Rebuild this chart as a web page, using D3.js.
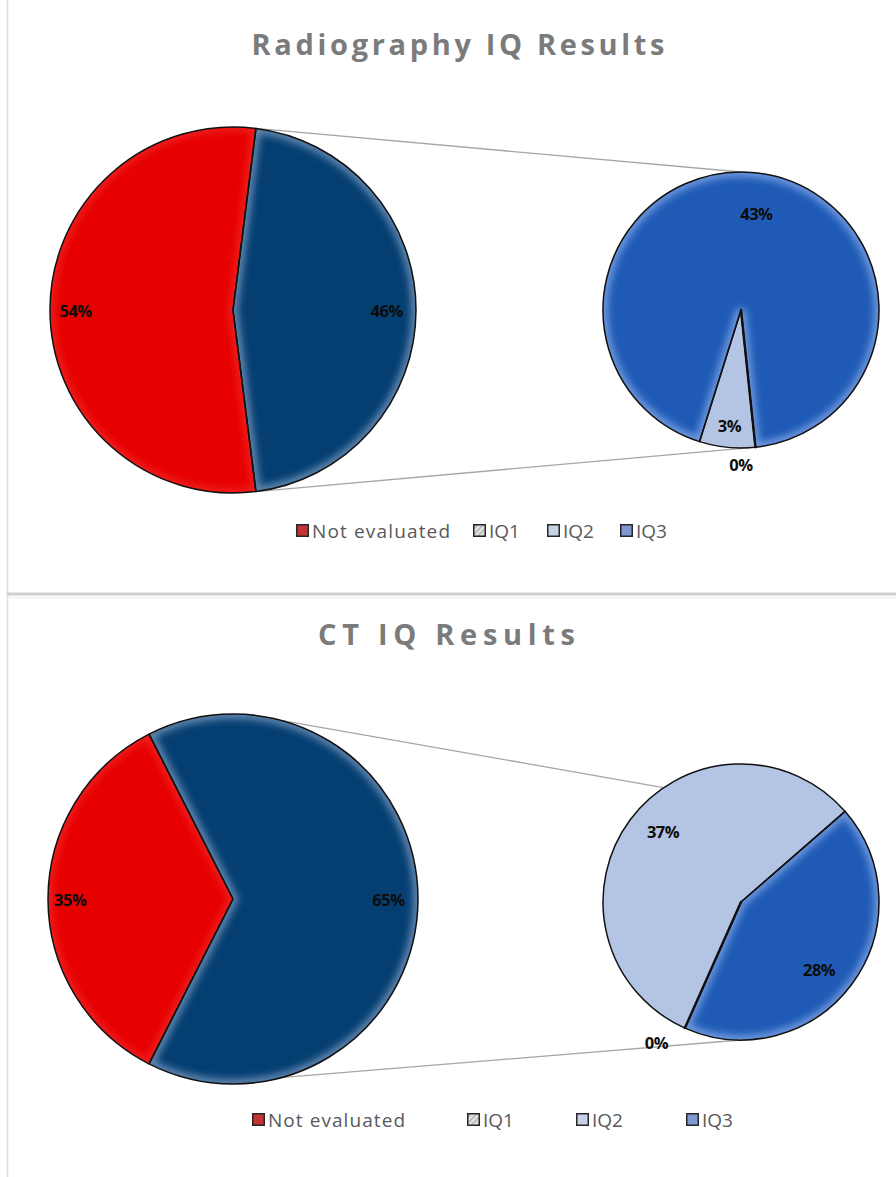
<!DOCTYPE html>
<html>
<head>
<meta charset="utf-8">
<script src="https://cdn.jsdelivr.net/npm/d3@7/dist/d3.min.js"></script>
<style>
  html, body { margin: 0; padding: 0; background: #ffffff; }
  svg { display: block; }
  text { font-family: "Open Sans", Lato, "DejaVu Sans", sans-serif; }
</style>
</head>
<body>
<svg id="chart" width="896" height="1177"></svg>
<script>
// ---- data ----
const chartTitles = ["Radiography IQ Results", "CT IQ Results"];
const legendLabels = ["Not evaluated", "IQ1", "IQ2", "IQ3"];

// primary pie: Not evaluated vs. evaluated (split further in the secondary pie)
const radiographyPrimary = [54, 46];
const radiographySecondary = [0, 3, 43];   // IQ1, IQ2, IQ3
const ctPrimary = [35, 65];
const ctSecondary = [0, 37, 28];           // IQ1, IQ2, IQ3

// ---- styling ----
const colors = {
  notEval: "#e60000",
  other: "#053f72",
  IQ1: "#d9d9d9",
  IQ2: "#b4c4e4",
  IQ3: "#1f5bb6"
};
const glow = {
  notEval: { c: "#ff5050", o: 0.35 },
  other: { c: "#7d9cc2", o: 0.75 },
  IQ1: { c: "#ffffff", o: 0 },
  IQ2: { c: "#b4c4e4", o: 0 },
  IQ3: { c: "#8fb0ec", o: 0.7 }
};
const legendSwatch = ["#c43434", "hatch", "#c7d2e8", "#7f98cf"];

const deg = Math.PI / 180;

const layouts = [
  {
    title: chartTitles[0], titleX: 458, titleY: 55, titleW: 413,
    primary: radiographyPrimary, secondary: radiographySecondary,
    big: { cx: 233, cy: 310, r: 183, start: 172.8 },
    small: { cx: 741, cy: 310, r: 138, start: 174 },
    connectors: [[7.2, 0], [172.8, 176]],
    bigLabels: [{ f: 0.86 }, { f: 0.84 }],
    smallLabels: [{ f: 1.12, a: 180 }, { f: 0.84 }, { f: 0.71, a: 9 }],
    legendY: 531,
    legendX: [296, 473, 547, 620],
    firstLegendW: 138
  },
  {
    title: chartTitles[1], titleX: 446.5, titleY: 645, titleW: 257,
    primary: ctPrimary, secondary: ctSecondary,
    big: { cx: 233, cy: 899, r: 185, start: 207 },
    small: { cx: 741, cy: 902, r: 138, start: 204 },
    connectors: [[15, 54], [165, 180]],
    bigLabels: [{ f: 0.88 }, { f: 0.84 }],
    smallLabels: [{ f: 1.19, a: 211 }, { f: 0.76, a: 312 }, { f: 0.75, a: 131 }],
    legendY: 1120,
    legendX: [252, 467, 576, 686],
    firstLegendW: 137
  }
];

const svg = d3.select("#chart");
const defs = svg.append("defs");

defs.append("filter").attr("id", "glow")
  .attr("x", "-20%").attr("y", "-20%").attr("width", "140%").attr("height", "140%")
  .append("feGaussianBlur").attr("stdDeviation", 3.5);

const hatch = defs.append("pattern").attr("id", "hatch")
  .attr("width", 4).attr("height", 4)
  .attr("patternUnits", "userSpaceOnUse")
  .attr("patternTransform", "rotate(45)");
hatch.append("rect").attr("width", 4).attr("height", 4).attr("fill", "#e6e6e6");
hatch.append("rect").attr("width", 1.6).attr("height", 4).attr("fill", "#b3b3b3");

// panel frame
svg.append("line").attr("x1", 7.5).attr("x2", 7.5).attr("y1", 0).attr("y2", 1177)
  .attr("stroke", "#dcdcdc").attr("stroke-width", 1.5);
svg.append("rect").attr("x", 7).attr("y", 592.5).attr("width", 889).attr("height", 3)
  .attr("fill", "#cfcfcf");
svg.append("line").attr("x1", 7).attr("x2", 896).attr("y1", 597.5).attr("y2", 597.5)
  .attr("stroke", "#ececec").attr("stroke-width", 1);

let clipId = 0;

function drawPie(g, values, keys, geo) {
  const pie = d3.pie().sort(null).value(d => d)
    .startAngle(geo.start * deg).endAngle(geo.start * deg + 2 * Math.PI);
  const arcs = pie(values);
  const arc = d3.arc().innerRadius(0).outerRadius(geo.r);
  const fillG = g.append("g").attr("transform", `translate(${geo.cx},${geo.cy})`);
  const glowG = g.append("g");
  const edgeG = g.append("g").attr("transform", `translate(${geo.cx},${geo.cy})`);

  arcs.forEach((a, i) => {
    const key = keys[i];
    const d = arc(a);
    fillG.append("path").attr("d", d).attr("fill", colors[key]);
    if (glow[key].o > 0 && a.data > 0) {
      // soft inner glow along slice edges
      const id = "clip" + (clipId++);
      defs.append("clipPath").attr("id", id)
        .append("path").attr("d", d)
        .attr("transform", `translate(${geo.cx},${geo.cy})`);
      glowG.append("g").attr("clip-path", `url(#${id})`)
        .append("path").attr("d", d)
        .attr("transform", `translate(${geo.cx},${geo.cy})`)
        .attr("fill", "none")
        .attr("stroke", glow[key].c)
        .attr("stroke-width", 10)
        .attr("stroke-opacity", glow[key].o)
        .attr("filter", "url(#glow)");
    }
  });
  arcs.forEach((a, i) => {
    edgeG.append("path").attr("d", arc(a))
      .attr("fill", "none")
      .attr("stroke", "#111")
      .attr("stroke-width", values[i] === 0 ? 2.4 : 1.5)
      .attr("stroke-linejoin", "round");
  });
  return { arcs };
}

function polar(geo, angleDeg, rad) {
  return [geo.cx + rad * Math.sin(angleDeg * deg), geo.cy - rad * Math.cos(angleDeg * deg)];
}

function drawLabels(g, arcs, geo, total, placement) {
  arcs.forEach((a, i) => {
    const p = placement[i];
    const mid = p.a !== undefined ? p.a : ((a.startAngle + a.endAngle) / 2) / deg;
    const [x, y] = polar(geo, mid, geo.r * p.f);
    g.append("text")
      .attr("x", x).attr("y", y)
      .attr("text-anchor", "middle").attr("dominant-baseline", "central")
      .attr("font-size", 16.5).attr("font-weight", 700).attr("fill", "#0d0d0d")
      .attr("letter-spacing", -0.5)
      .text(d3.format(".0f")(a.data / total * 100) + "%");
  });
}

layouts.forEach(L => {
  const g = svg.append("g");

  // title
  g.append("text")
    .attr("x", L.titleX).attr("y", L.titleY)
    .attr("text-anchor", "middle")
    .attr("font-size", 29).attr("font-weight", 700)
    .attr("fill", "#7b7b7b")
    .attr("textLength", L.titleW).attr("lengthAdjust", "spacing")
    .text(L.title);

  const total = d3.sum(L.primary);

  // connector lines between the two pies
  L.connectors.forEach(([aBig, aSmall]) => {
    const p1 = polar(L.big, aBig, L.big.r);
    const p2 = polar(L.small, aSmall, L.small.r);
    g.append("line")
      .attr("x1", p1[0]).attr("y1", p1[1]).attr("x2", p2[0]).attr("y2", p2[1])
      .attr("stroke", "#a6a6a6").attr("stroke-width", 1.3);
  });

  const big = drawPie(g, L.primary, ["notEval", "other"], L.big);
  const small = drawPie(g, L.secondary, ["IQ1", "IQ2", "IQ3"], L.small);

  drawLabels(g, big.arcs, L.big, total, L.bigLabels);
  drawLabels(g, small.arcs, L.small, total, L.smallLabels);

  // legend
  legendLabels.forEach((lab, i) => {
    const x = L.legendX[i];
    g.append("rect")
      .attr("x", x + 0.75).attr("y", L.legendY - 6.25)
      .attr("width", 11.5).attr("height", 11.5)
      .attr("fill", legendSwatch[i] === "hatch" ? "url(#hatch)" : legendSwatch[i])
      .attr("stroke", "#262626").attr("stroke-width", 1.5);
    const t = g.append("text")
      .attr("x", x + 16).attr("y", L.legendY)
      .attr("dominant-baseline", "central")
      .attr("font-size", 19).attr("fill", "#595959")
      .text(lab);
    if (i === 0) t.attr("textLength", L.firstLegendW).attr("lengthAdjust", "spacing");
  });
});
</script>
</body>
</html>
